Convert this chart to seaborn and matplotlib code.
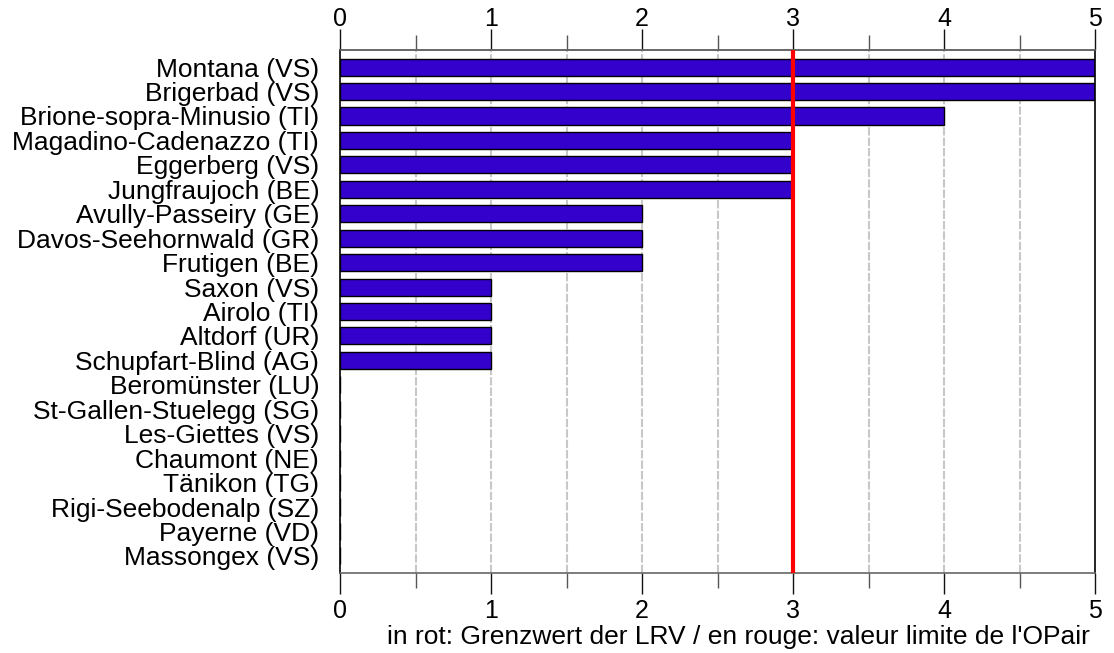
import matplotlib
matplotlib.use("Agg")
import matplotlib.pyplot as plt
import seaborn as sns
import pandas as pd

stations = ["Montana (VS)", "Brigerbad (VS)", "Brione-sopra-Minusio (TI)",
            "Magadino-Cadenazzo (TI)", "Eggerberg (VS)", "Jungfraujoch (BE)",
            "Avully-Passeiry (GE)", "Davos-Seehornwald (GR)", "Frutigen (BE)",
            "Saxon (VS)", "Airolo (TI)", "Altdorf (UR)", "Schupfart-Blind (AG)",
            "Beromünster (LU)", "St-Gallen-Stuelegg (SG)", "Les-Giettes (VS)",
            "Chaumont (NE)", "Tänikon (TG)", "Rigi-Seebodenalp (SZ)",
            "Payerne (VD)", "Massongex (VS)"]
values = [5, 5, 4, 3, 3, 3, 2, 2, 2, 1, 1, 1, 1, 0, 0, 0, 0, 0, 0, 0, 0]
limit_value = 3
major_ticks = [0, 1, 2, 3, 4, 5]
minor_ticks = [0.5, 1.5, 2.5, 3.5, 4.5]
xlabel_text = "in rot: Grenzwert der LRV / en rouge: valeur limite de l'OPair"

df = pd.DataFrame({"station": stations, "value": values})

sns.set_style("white")
plt.rcParams['font.family'] = ['Liberation Sans', 'DejaVu Sans']
plt.rcParams['text.color'] = 'black'
plt.rcParams['xtick.labelcolor'] = 'black'
plt.rcParams['ytick.labelcolor'] = 'black'

fig = plt.figure(figsize=(11.14, 6.53), dpi=100)
ax = fig.add_axes([340/1114, 1-573/653, (1095-340)/1114, (573-50)/653])

for xv in sorted(major_ticks[1:-1] + minor_ticks):
    ax.axvline(xv, color="#c8c8c8", lw=1.5, ls=(0, (4, 1)), zorder=0)

sns.barplot(data=df, x="value", y="station", orient="h", color="#3300CC",
            saturation=1, edgecolor="black", linewidth=1, width=0.7, ax=ax, zorder=2)

ax.axvline(limit_value, color="#ff0000", lw=3, zorder=3)

ax.set_xlim(0, 5)
ax.set_ylim(20.7, -0.7)
ax.set_xticks(major_ticks)
ax.set_xticklabels([str(t) for t in major_ticks])
ax.set_xticks(minor_ticks, minor=True)
ax.tick_params(axis="x", which="both", top=False, bottom=True, labeltop=False,
               labelbottom=True, direction="out", labelsize=18, labelcolor="black")
ax.tick_params(axis="x", which="major", length=15, width=1, pad=4, color="#111111")
ax.tick_params(axis="x", which="minor", length=11, width=1, color="#555555")
ax.tick_params(axis="y", length=0, labelsize=19, pad=15, labelcolor="black")

sec = ax.secondary_xaxis("top")
sec.set_xticks(major_ticks)
sec.set_xticklabels([str(t) for t in major_ticks])
sec.set_xticks(minor_ticks, minor=True)
sec.tick_params(axis="x", which="both", direction="out", labelsize=18, labelcolor="black")
sec.tick_params(axis="x", which="major", length=15, width=1, pad=-1.5, color="#111111")
sec.tick_params(axis="x", which="minor", length=11, width=1, color="#555555")
sec.spines["top"].set_color("#666666")
sec.spines["top"].set_linewidth(1.2)

for s in ["top", "bottom"]:
    ax.spines[s].set_color("#666666")
    ax.spines[s].set_linewidth(1.2)
for s in ["left", "right"]:
    ax.spines[s].set_color("black")
    ax.spines[s].set_linewidth(1.2)
ax.set_ylabel("")
ax.set_xlabel("")
fig.text(1090/1114, 1-637/653, xlabel_text, ha="right", va="center", fontsize=19)

fig.savefig("out.png", dpi=100)
